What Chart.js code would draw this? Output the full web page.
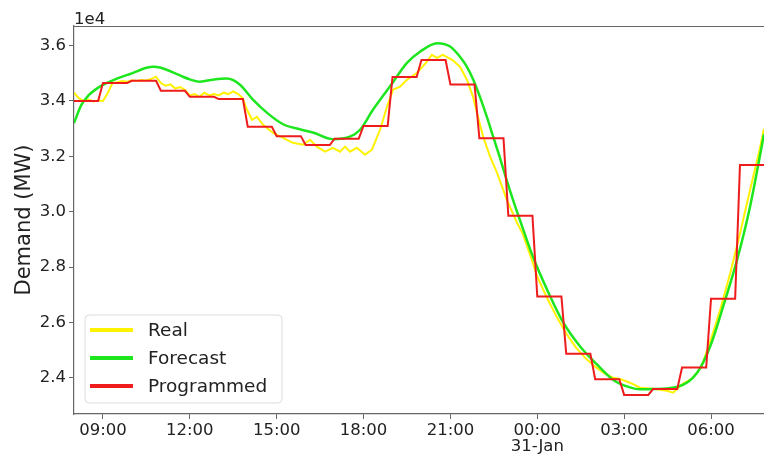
<!DOCTYPE html>
<html>
<head>
<meta charset="utf-8">
<script src="https://cdn.jsdelivr.net/npm/chart.js@4/dist/chart.umd.min.js"></script>
<style>
  html, body { margin: 0; padding: 0; background: #ffffff; }
  #wrap { width: 764px; height: 458px; position: relative; }
</style>
</head>
<body>
<div id="wrap"><canvas id="c" width="764" height="458"></canvas></div>
<script>
// ---- Data (hours counted from 00:00 on 30-Jan) ----
const seriesNames = ['Real', 'Forecast', 'Programmed'];

const realHours = [8.0, 8.17, 8.33, 8.5, 8.67, 8.83, 9.0, 9.17, 9.33, 9.5, 9.67, 9.83,
  10.0, 10.17, 10.33, 10.5, 10.67, 10.83, 11.0, 11.17, 11.33, 11.5, 11.67, 11.83,
  12.0, 12.17, 12.33, 12.5, 12.67, 12.83, 13.0, 13.17, 13.33, 13.5, 13.67, 13.83,
  13.97, 14.15, 14.32, 14.53, 14.87, 15.22, 15.56, 15.91, 16.15, 16.39, 16.67, 16.94,
  17.19, 17.36, 17.53, 17.77, 18.05, 18.29, 18.57, 18.81, 19.02, 19.26, 19.5, 19.85,
  20.19, 20.36, 20.54, 20.74, 21.06, 21.33, 21.57, 21.78, 21.95, 22.13, 22.37, 22.61,
  22.95, 23.3, 23.5, 23.83, 24.0, 24.33, 24.67, 25.0, 25.33, 25.67, 26.0, 26.33,
  26.62, 26.86, 27.2, 27.55, 28.0, 28.48, 28.69, 29.03, 29.38, 29.67, 30.0, 30.33,
  30.67, 31.0, 31.33, 31.67, 31.83];
const realValues = [34300, 34100, 34000, 34050, 33980, 34020, 34000, 34300, 34650, 34680, 34720, 34700,
  34750, 34720, 34760, 34740, 34800, 34880, 34650, 34550, 34600, 34450, 34500, 34400,
  34200, 34250, 34150, 34300, 34200, 34250, 34200, 34300, 34250, 34350, 34250, 34100,
  33690, 33320, 33430, 33140, 32850, 32670, 32490, 32420, 32600, 32350, 32170, 32310,
  32170, 32350, 32170, 32310, 32060, 32240, 32960, 33790, 34410, 34520, 34770, 35020,
  35420, 35670, 35560, 35670, 35490, 35240, 34770, 34160, 33430, 32710, 31990, 31400,
  30430, 29600, 29200, 28200, 27650, 26900, 26200, 25600, 25100, 24700, 24400, 24150,
  24000, 23960, 23820, 23640, 23600, 23530, 23460, 23780, 24000, 24400, 25400, 26500,
  27800, 29200, 30700, 32200, 33000];

const forecastHours = [8.0, 8.25, 8.5, 8.75, 9.0, 9.5, 10.0, 10.5, 10.75, 11.0, 11.5, 11.75,
  12.0, 12.35, 12.8, 13.28, 13.73, 14.18, 14.66, 15.22, 15.8, 16.25, 16.94, 17.53,
  17.88, 18.33, 18.91, 19.5, 19.95, 20.54, 20.99, 21.33, 21.56, 21.79, 22.02, 22.25,
  22.48, 22.71, 22.94, 23.17, 23.45, 23.85, 24.34, 24.9, 25.48, 26.06, 26.6, 27.2,
  27.55, 27.9, 28.86, 29.52, 29.97, 30.42, 30.9, 31.35, 31.83];
const forecastValues = [33200, 33850, 34200, 34420, 34580, 34820, 35000, 35200, 35240, 35200, 35000, 34880,
  34780, 34700, 34770, 34810, 34590, 34050, 33580, 33160, 32980, 32860, 32620, 32710,
  32960, 33690, 34520, 35380, 35780, 36090, 35970, 35600, 35250, 34770, 34150, 33450,
  32700, 31950, 31150, 30400, 29550, 28370, 27180, 25990, 25130, 24480, 23940, 23650,
  23580, 23590, 23680, 24180, 25130, 26580, 28260, 30190, 32800];

// Programmed: one value per hour, starting at the hour listed
const programmedHours = [8, 9, 10, 11, 12, 13, 14, 15, 16, 17, 18, 19,
  20, 21, 22, 23, 24, 25, 26, 27, 28, 29, 30, 31];
const programmedValues = [34000, 34650, 34730, 34370, 34150, 34070, 33070, 32730, 32410, 32640, 33100, 34870,
  35480, 34600, 32650, 29850, 26940, 24870, 23950, 23380, 23590, 24370, 26850, 31690];

const xTickHours = [9, 12, 15, 18, 21, 24, 27, 30];
const xTickLabels = ['09:00', '12:00', '15:00', '18:00', '21:00', '00:00', '03:00', '06:00'];
const dateLabelHour = 24;
const dateLabel = '31-Jan';
const yTickValues = [24000, 26000, 28000, 30000, 32000, 34000, 36000];
const xRange = [8.0, 31.83];
const yRange = [22690, 36710];

// ---- Build point tables ----
const realPts = realHours.map((h, i) => ({ x: h, y: realValues[i] }));
const forecastPts = forecastHours.map((h, i) => ({ x: h, y: forecastValues[i] }));
const programmedPts = [];
programmedHours.forEach((h, i) => {
  const end = (i < programmedHours.length - 1) ? programmedHours[i + 1] - 1 / 6 : xRange[1];
  programmedPts.push({ x: h, y: programmedValues[i] });
  programmedPts.push({ x: end, y: programmedValues[i] });
});

const COLORS = ['#fff200', '#1ee61e', '#ee1c1c'];
const FONT = '"DejaVu Sans", "Liberation Sans", sans-serif';
const AXIS = '#666666';

const frame = {
  id: 'frame',
  afterDraw(chart) {
    const { ctx, chartArea: a } = chart;
    const xs = chart.scales.x;
    ctx.save();
    // top spine
    ctx.strokeStyle = AXIS;
    ctx.lineWidth = 1.2;
    ctx.beginPath();
    ctx.moveTo(a.left, a.top + 0.5);
    ctx.lineTo(a.right, a.top + 0.5);
    ctx.stroke();
    // offset label
    ctx.fillStyle = '#222';
    ctx.font = '16.5px ' + FONT;
    ctx.textAlign = 'left';
    ctx.textBaseline = 'alphabetic';
    ctx.fillText('1e4', a.left, a.top - 2);
    // date line under the midnight tick
    ctx.textAlign = 'center';
    ctx.textBaseline = 'middle';
    ctx.fillText(dateLabel, xs.getPixelForValue(dateLabelHour), 447);
    // legend box
    const bx = 85, by = 315, bw = 197, bh = 88, r = 4;
    ctx.fillStyle = 'rgba(255,255,255,0.8)';
    ctx.strokeStyle = '#dcdcdc';
    ctx.lineWidth = 1;
    ctx.beginPath();
    ctx.moveTo(bx + r, by);
    ctx.lineTo(bx + bw - r, by);
    ctx.arcTo(bx + bw, by, bx + bw, by + r, r);
    ctx.lineTo(bx + bw, by + bh - r);
    ctx.arcTo(bx + bw, by + bh, bx + bw - r, by + bh, r);
    ctx.lineTo(bx + r, by + bh);
    ctx.arcTo(bx, by + bh, bx, by + bh - r, r);
    ctx.lineTo(bx, by + r);
    ctx.arcTo(bx, by, bx + r, by, r);
    ctx.closePath();
    ctx.fill();
    ctx.stroke();
    ctx.font = '18.5px ' + FONT;
    ctx.textAlign = 'left';
    ctx.textBaseline = 'middle';
    chart.data.datasets.forEach((ds, i) => {
      const y = by + 15 + i * 28;
      ctx.strokeStyle = ds.borderColor;
      ctx.lineWidth = 4;
      ctx.beginPath();
      ctx.moveTo(90, y);
      ctx.lineTo(133, y);
      ctx.stroke();
      ctx.fillStyle = '#222';
      ctx.fillText(ds.label, 148, y + 1);
    });
    ctx.restore();
  }
};

new Chart(document.getElementById('c'), {
  type: 'line',
  data: {
    datasets: [
      { label: seriesNames[0], data: realPts, borderColor: COLORS[0], borderWidth: 2, pointRadius: 0, tension: 0, order: 2 },
      { label: seriesNames[1], data: forecastPts, borderColor: COLORS[1], borderWidth: 2.5, pointRadius: 0, cubicInterpolationMode: 'monotone', order: 1 },
      { label: seriesNames[2], data: programmedPts, borderColor: COLORS[2], borderWidth: 2, pointRadius: 0, tension: 0, order: 0 }
    ]
  },
  options: {
    responsive: false,
    animation: false,
    events: [],
    layout: { padding: { top: 26, left: 0, right: 0, bottom: 0 } },
    plugins: { legend: { display: false }, tooltip: { enabled: false } },
    scales: {
      x: {
        type: 'linear',
        min: xRange[0],
        max: xRange[1],
        afterBuildTicks(scale) { scale.ticks = xTickHours.map(v => ({ value: v })); },
        afterFit(scale) { scale.height = 44; },
        ticks: {
          autoSkip: false,
          maxRotation: 0,
          padding: 2,
          color: '#222',
          font: { family: FONT, size: 16.5 },
          callback(v, i) { return xTickLabels[i]; }
        },
        grid: { drawOnChartArea: false, drawTicks: true, tickLength: 5, color: AXIS },
        border: { display: true, color: AXIS, width: 1.2 }
      },
      y: {
        type: 'linear',
        min: yRange[0],
        max: yRange[1],
        afterBuildTicks(scale) { scale.ticks = yTickValues.map(v => ({ value: v })); },
        afterFit(scale) { scale.width = 74; },
        ticks: {
          padding: 3,
          color: '#222',
          font: { family: FONT, size: 16.5 },
          callback(v) { return (v / 1e4).toFixed(1); }
        },
        title: { display: true, text: 'Demand (MW)', color: '#222', font: { family: FONT, size: 21 }, padding: { top: 12, bottom: 0 } },
        grid: { drawOnChartArea: false, drawTicks: true, tickLength: 5, color: AXIS },
        border: { display: true, color: AXIS, width: 1.2 }
      }
    }
  },
  plugins: [frame]
});
</script>
</body>
</html>
